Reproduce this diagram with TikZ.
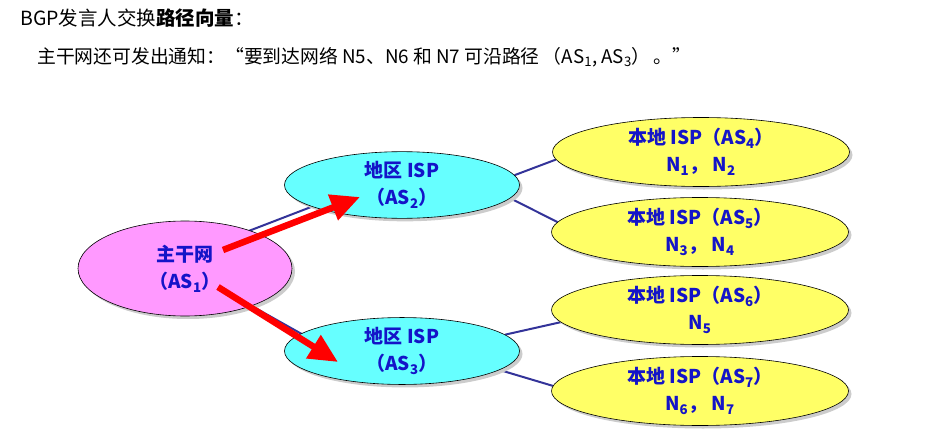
\documentclass[tikz,border=0pt]{standalone}
\usepackage{fontspec}
\setmainfont{Noto Sans CJK SC}
\usetikzlibrary{arrows.meta,shapes.geometric,shadows,backgrounds,calc}
\definecolor{asblue}{HTML}{1414C8}
\definecolor{linkblue}{HTML}{333399}
\definecolor{aspink}{HTML}{FF99FF}
\definecolor{ascyan}{HTML}{66FFFF}
\definecolor{asyellow}{HTML}{FFFF66}
\tikzset{
  asnode/.style={ellipse,draw=black,semithick,inner sep=0pt,align=center,
    font=\fontsize{19}{27}\selectfont\bfseries,text=asblue,
    drop shadow={shadow xshift=3pt,shadow yshift=-3pt,fill=black!20,opacity=1}},
  bbnode/.style={asnode,fill=aspink,minimum width=214pt,minimum height=95pt},
  regnode/.style={asnode,fill=ascyan,minimum width=235pt,minimum height=56pt},
  locnode/.style={asnode,fill=asyellow,minimum width=297pt,minimum height=69pt},
  txtline/.style={anchor=west,inner sep=0pt,font=\fontsize{18.8}{22}\selectfont},
  aslink/.style={linkblue,line width=2pt},
  advert/.style={-{Triangle[length=29pt,width=26pt]},red,line width=6.5pt},
}

\begin{document}
\begin{tikzpicture}[x=1pt,y=-1pt]
  \useasboundingbox (0,0) rectangle (946,439);
  % heading
  \node[txtline,font=\fontsize{19.5}{22}\selectfont] (head) at (20,18) {BGP发言人交换\textbf{路径向量}：};
  \node[txtline] (note) at (37,57) {主干网还可发出通知：“要到达网络 N5、N6 和 N7 可沿路径\,（AS\textsubscript{1}, AS\textsubscript{3}）\,。”};
  % autonomous systems
  \node[bbnode] (bb) at (185,268.5) {主干网\\（AS\textsubscript{1}）};
  \node[regnode] (rg2) at (402,185) {地区 ISP\\（AS\textsubscript{2}）};
  \node[regnode] (rg3) at (402,351) {地区 ISP\\（AS\textsubscript{3}）};
  \node[locnode] (loc4) at (701,152) {本地 ISP（AS\textsubscript{4}）\\N\textsubscript{1}，\ N\textsubscript{2}};
  \node[locnode] (loc5) at (700,232) {本地 ISP（AS\textsubscript{5}）\\N\textsubscript{3}，\ N\textsubscript{4}};
  \node[locnode] (loc6) at (700,310) {本地 ISP（AS\textsubscript{6}）\\N\textsubscript{5}};
  \node[locnode] (loc7) at (700,391) {本地 ISP（AS\textsubscript{7}）\\N\textsubscript{6}，\ N\textsubscript{7}};
  % links
  \begin{scope}[on background layer]
    \draw[aslink] ($(bb.center)+(0,-13)$) -- ($(rg2.center)+(0,-13)$);
    \draw[aslink] (bb.center) -- ($(rg3.center)+(-70,0)$);
    \draw[aslink] (rg2.5) -- (loc4.183);
    \draw[aslink] (rg2.353) -- (loc5.176);
    \draw[aslink] (rg3.9) -- (loc6.185);
    \draw[aslink] (rg3.349) -- (loc7.178);
  \end{scope}
  % route advertisement
  \coordinate (up0) at (223,250);
  \coordinate (up1) at (360,197);
  \coordinate (dn0) at (218,287);
  \coordinate (dn1) at (338,362);
  \draw[advert] (up0) -- (up1);
  \draw[advert] (dn0) -- (dn1);
\end{tikzpicture}
\end{document}
